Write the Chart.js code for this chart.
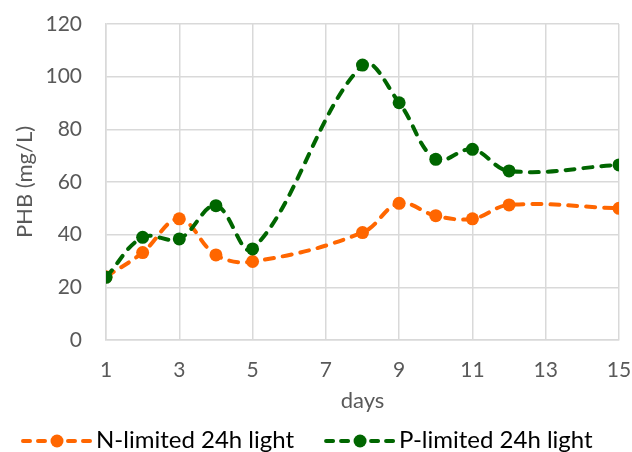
<!DOCTYPE html>
<html>
<head>
<meta charset="utf-8">
<script src="https://cdn.jsdelivr.net/npm/chart.js@4/dist/chart.umd.min.js"></script>
<style>
  html, body { margin: 0; padding: 0; background: #fff; }
  #wrap { width: 632px; height: 452px; }
</style>
</head>
<body>
<div id="wrap"><canvas id="c" width="632" height="452"></canvas></div>
<script>
// Sampling days and PHB concentrations (mg/L)
const days = [1, 2, 3, 4, 5, 8, 9, 10, 11, 12, 15];
const nLimited = [24.0, 33.2, 46.0, 32.3, 29.8, 40.8, 51.9, 47.2, 46.0, 51.3, 50.0];
const pLimited = [23.8, 39.0, 38.4, 51.0, 34.6, 104.4, 90.1, 68.6, 72.4, 64.2, 66.5];
const seriesNames = ['N-limited 24h light', 'P-limited 24h light'];
const seriesColors = ['#FF6600', '#006600'];
const xTicks = [1, 3, 5, 7, 9, 11, 13, 15];
const yTicks = [0, 20, 40, 60, 80, 100, 120];

const FONT = 'Lato, "Open Sans", "Noto Sans", sans-serif';
const AXIS_GREY = '#595959';
const GRID = '#D9D9D9';

// Bottom legend: dashed line sample with a marker, then the series name
const lineLegend = {
  id: 'lineLegend',
  afterDraw(chart) {
    const ctx = chart.ctx;
    const yText = 440, yLine = 441;
    let x = 21;
    ctx.save();
    ctx.font = '24px ' + FONT;
    ctx.textBaseline = 'middle';
    ctx.textAlign = 'left';
    chart.data.datasets.forEach((ds) => {
      ctx.strokeStyle = ds.borderColor;
      ctx.fillStyle = ds.borderColor;
      ctx.lineWidth = 4;
      ctx.lineCap = 'round';
      ctx.setLineDash([7, 8]);
      ctx.beginPath();
      ctx.moveTo(x + 2, yLine);
      ctx.lineTo(x + 70, yLine);
      ctx.stroke();
      ctx.setLineDash([]);
      ctx.beginPath();
      ctx.arc(x + 36, yLine, 6.5, 0, Math.PI * 2);
      ctx.fill();
      ctx.fillStyle = '#000';
      ctx.fillText(ds.label, x + 75, yText);
      x += 75 + ctx.measureText(ds.label).width + 30;
    });
    ctx.restore();
  }
};

function series(values, i, order) {
  return {
    label: seriesNames[i],
    data: days.map((d, k) => ({ x: d, y: values[k] })),
    borderColor: seriesColors[i],
    backgroundColor: seriesColors[i],
    borderWidth: 4,
    borderDash: [9, 9],
    borderCapStyle: 'round',
    tension: 0.38,
    pointRadius: 6.5,
    pointHoverRadius: 6.5,
    pointBorderWidth: 0,
    pointBackgroundColor: seriesColors[i],
    fill: false,
    order: order
  };
}

new Chart(document.getElementById('c'), {
  type: 'line',
  data: {
    datasets: [series(nLimited, 0, 1), series(pLimited, 1, 0)]
  },
  plugins: [lineLegend],
  options: {
    responsive: false,
    animation: false,
    layout: { padding: { left: 0, right: 13, top: 24, bottom: 52 } },
    plugins: {
      tooltip: { enabled: false },
      legend: { display: false }
    },
    scales: {
      x: {
        type: 'linear',
        min: 1, max: 15,
        afterBuildTicks(s) { s.ticks = xTicks.map(v => ({ value: v })); },
        afterFit(s) { s.height = 60; s.paddingLeft = 0; s.paddingRight = 0; },
        grid: { color: GRID, lineWidth: 1.5, drawTicks: false, tickLength: 0 },
        border: { color: GRID, width: 1.5 },
        ticks: { color: AXIS_GREY, font: { family: FONT, size: 21 }, padding: 18, maxRotation: 0 },
        title: { display: true, text: 'days', color: AXIS_GREY, font: { family: FONT, size: 22 }, padding: { top: -14, bottom: -14 } }
      },
      y: {
        min: 0, max: 120,
        afterBuildTicks(s) { s.ticks = yTicks.map(v => ({ value: v })); },
        afterFit(s) { s.width = 106; s.paddingTop = 0; s.paddingBottom = 0; },
        grid: { color: GRID, lineWidth: 1.5, drawTicks: false, tickLength: 0 },
        border: { color: GRID, width: 1.5 },
        ticks: { color: AXIS_GREY, font: { family: FONT, size: 21 }, padding: 24 },
        title: { display: true, text: 'PHB (mg/L)', color: AXIS_GREY, font: { family: FONT, size: 22 }, padding: { top: 12, bottom: 0 } }
      }
    }
  }
});
</script>
</body>
</html>
